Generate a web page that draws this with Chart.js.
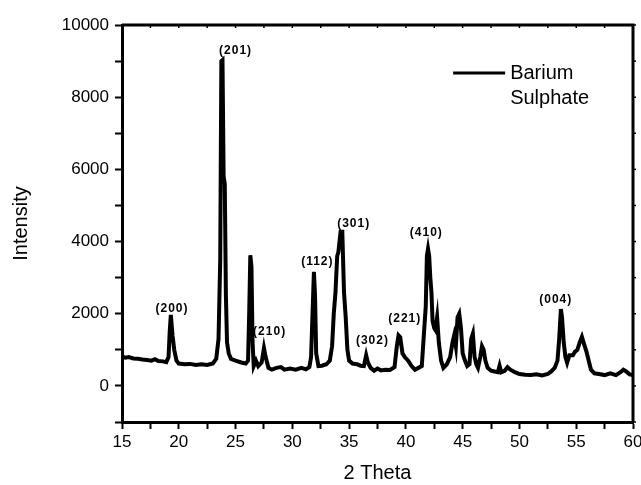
<!DOCTYPE html>
<html>
<head>
<meta charset="utf-8">
<script src="https://cdn.jsdelivr.net/npm/chart.js@4.4.1/dist/chart.umd.min.js"></script>
<style>
  html, body { margin: 0; padding: 0; background: #fff; }
  #wrap { width: 641px; height: 485px; }
</style>
</head>
<body>
<div id="wrap"><canvas id="xrd"></canvas></div>
<script>
// XRD 패턴 (2θ, 세기) - 그림에서 읽은 값
const twoTheta = [
  15.0, 15.3, 15.6, 16.0, 16.4, 16.8, 17.2, 17.6, 17.9, 18.2, 18.6, 18.9,
  19.1, 19.2, 19.3, 19.45, 19.6, 19.8, 20.0, 20.5, 21.0, 21.5, 22.0, 22.5,
  23.0, 23.3, 23.5, 23.65, 23.75, 23.85, 23.95, 24.05, 24.15, 24.25, 24.4, 24.6,
  25.0, 25.5, 25.9, 26.1, 26.2, 26.3, 26.4, 26.5, 26.6, 26.8, 27.0, 27.3,
  27.5, 27.65, 27.9, 28.2, 28.6, 29.0, 29.3, 29.8, 30.3, 30.8, 31.2, 31.5,
  31.65, 31.8, 31.9, 32.0, 32.1, 32.3, 32.6, 33.0, 33.3, 33.5, 33.65, 33.8,
  33.95, 34.05, 34.25, 34.4, 34.55, 34.7, 34.85, 35.0, 35.3, 35.7, 36.0, 36.3,
  36.5, 36.65, 36.9, 37.2, 37.5, 37.8, 38.2, 38.6, 39.0, 39.2, 39.35, 39.5,
  39.7, 39.9, 40.2, 40.5, 40.8, 41.1, 41.4, 41.6, 41.75, 41.85, 41.95, 42.05,
  42.15, 42.25, 42.35, 42.5, 42.6, 42.75, 42.9, 43.1, 43.3, 43.6, 43.9, 44.1,
  44.25, 44.4, 44.55, 44.7, 44.85, 45.0, 45.2, 45.4, 45.6, 45.75, 45.9, 46.05,
  46.2, 46.35, 46.55, 46.7, 46.85, 47.0, 47.2, 47.5, 47.8, 48.1, 48.25, 48.4,
  48.7, 48.95, 49.2, 49.6, 50.0, 50.5, 51.0, 51.5, 52.0, 52.5, 52.8, 53.1,
  53.35, 53.5, 53.65, 53.75, 53.9, 54.05, 54.2, 54.4, 54.7, 54.9, 55.1, 55.3,
  55.5, 55.7, 55.9, 56.1, 56.3, 56.6, 57.0, 57.5, 58.0, 58.5, 58.9, 59.15,
  59.4, 59.7, 60.0
];
const intensity = [
  820, 780, 800, 760, 750, 730, 720, 700, 740, 690, 680, 660,
  800, 1500, 1970, 1400, 1000, 700, 620, 600, 610, 580, 600, 580,
  620, 750, 1300, 3500, 9000, 9030, 5800, 5600, 2500, 1200, 900, 750,
  700, 650, 620, 700, 2000, 3620, 3300, 1200, 550, 700, 550, 650,
  1050, 800, 500, 450, 500, 520, 450, 480, 450, 500, 460, 520,
  800, 2200, 3160, 2500, 900, 550, 560, 600, 700, 1100, 2000, 2600,
  3600, 3700, 4270, 4270, 2600, 1900, 1000, 700, 620, 600, 560, 550,
  850, 650, 500, 420, 480, 430, 450, 440, 520, 1100, 1400, 1350,
  900, 800, 700, 550, 450, 500, 550, 1500, 2200, 3600, 3800, 3600,
  3000, 2600, 1800, 1600, 1550, 1900, 1200, 700, 500, 600, 800, 1200,
  1400, 1100, 1900, 2000, 1600, 900, 700, 550, 600, 1300, 1450, 800,
  600, 500, 800, 1100, 1000, 700, 500, 420, 400, 380, 560, 380,
  420, 520, 450, 380, 330, 310, 300, 320, 290, 330, 400, 500,
  700, 1300, 2130, 1900, 1200, 800, 640, 850, 850, 950, 1000, 1200,
  1360, 1150, 950, 700, 450, 350, 330, 300, 350, 300, 380, 450,
  400, 320, 300
];

// 피크 지수 라벨과 위치 (데이터 단위)
const peakLabels = ['(200)', '(201)', '(210)', '(112)', '(301)', '(302)', '(221)', '(410)', '(004)'];
const peakLabelX = [19.4, 25.0, 28.0, 32.2, 35.4, 37.05, 39.9, 41.8, 53.2];
const peakLabelY = [2130, 9300, 1500, 3430, 4490, 1250, 1850, 4250, 2380];

// 축 눈금
const xTickLabels = [15, 20, 25, 30, 35, 40, 45, 50, 55, 60];
const yTickLabels = [0, 2000, 4000, 6000, 8000, 10000];

const FONT = "'Liberation Sans', Arial, sans-serif";

// 위/오른쪽 테두리 + 범례 + 피크 라벨
const decorPlugin = {
  id: 'decor',
  afterDatasetsDraw(chart) {
    const { ctx, chartArea: a, scales } = chart;
    ctx.save();
    ctx.strokeStyle = '#000';
    ctx.lineWidth = 3;
    ctx.beginPath();
    ctx.moveTo(a.left, a.top);
    ctx.lineTo(a.right, a.top);
    ctx.lineTo(a.right, a.bottom);
    ctx.stroke();

    // 안쪽 작은 눈금 (위/오른쪽)
    ctx.lineWidth = 1.5;
    scales.x.ticks.forEach(t => {
      const px = scales.x.getPixelForValue(t.value);
      ctx.beginPath(); ctx.moveTo(px, a.top); ctx.lineTo(px, a.top + 3); ctx.stroke();
    });
    scales.y.ticks.forEach(t => {
      const py = scales.y.getPixelForValue(t.value);
      ctx.beginPath(); ctx.moveTo(a.right, py); ctx.lineTo(a.right + 3, py); ctx.stroke();
    });

    // 피크 라벨
    ctx.fillStyle = '#000';
    ctx.font = 'bold 12px ' + FONT;
    ctx.textAlign = 'center';
    ctx.textBaseline = 'middle';
    if ('letterSpacing' in ctx) ctx.letterSpacing = '1px';
    peakLabels.forEach((txt, i) => {
      ctx.fillText(txt, scales.x.getPixelForValue(peakLabelX[i]), scales.y.getPixelForValue(peakLabelY[i]));
    });
    if ('letterSpacing' in ctx) ctx.letterSpacing = '0px';

    // 범례
    const ds = chart.data.datasets[0];
    const lx = a.left + (a.right - a.left) * 0.648;
    const ly = a.top + 48;
    ctx.strokeStyle = ds.borderColor;
    ctx.lineWidth = 3;
    ctx.beginPath(); ctx.moveTo(lx, ly); ctx.lineTo(lx + 52, ly); ctx.stroke();
    ctx.font = '20px ' + FONT;
    ctx.textAlign = 'left';
    ds.label.split('\n').forEach((line, i) => ctx.fillText(line, lx + 57, ly + i * 25));
    ctx.restore();
  }
};

const points = twoTheta.map((x, i) => ({ x, y: intensity[i] }));

new Chart(document.getElementById('xrd'), {
  type: 'line',
  data: {
    datasets: [{
      label: 'Barium\nSulphate',
      data: points,
      borderColor: '#000',
      borderWidth: 4,
      pointRadius: 0,
      tension: 0,
      fill: false
    }]
  },
  options: {
    responsive: true,
    maintainAspectRatio: false,
    animation: false,
    layout: { padding: { top: 25, right: 8, left: 0, bottom: 0 } },
    plugins: { legend: { display: false }, tooltip: { enabled: false } },
    scales: {
      x: {
        type: 'linear',
        min: 15, max: 60,
        // "60" 라벨이 오른쪽 끝에서 잘리도록 여백 무시
        afterFit: s => { s.height = 63; s.paddingRight = 0; },
        ticks: {
          stepSize: 2.5,
          color: '#000',
          padding: 3,
          font: { family: FONT, size: 17 },
          callback: v => xTickLabels.includes(v) ? String(v) : ''
        },
        grid: { drawOnChartArea: false, drawTicks: true, tickLength: 7, tickWidth: 2, color: '#000' },
        border: { display: true, color: '#000', width: 3 },
        title: { display: true, text: '2 Theta', color: '#000', font: { family: FONT, size: 20 }, padding: { bottom: 0 } }
      },
      y: {
        min: -1000, max: 10000,
        afterFit: s => { s.width = 122; },
        ticks: {
          stepSize: 1000,
          color: '#000',
          padding: 6,
          font: { family: FONT, size: 17 },
          callback: v => yTickLabels.includes(v) ? String(v) : ''
        },
        grid: { drawOnChartArea: false, drawTicks: true, tickLength: 7, tickWidth: 2, color: '#000' },
        border: { display: true, color: '#000', width: 3 },
        title: { display: true, text: 'Intensity', color: '#000', font: { family: FONT, size: 20 }, padding: { top: 9 } }
      }
    }
  },
  plugins: [decorPlugin]
});
</script>
</body>
</html>
